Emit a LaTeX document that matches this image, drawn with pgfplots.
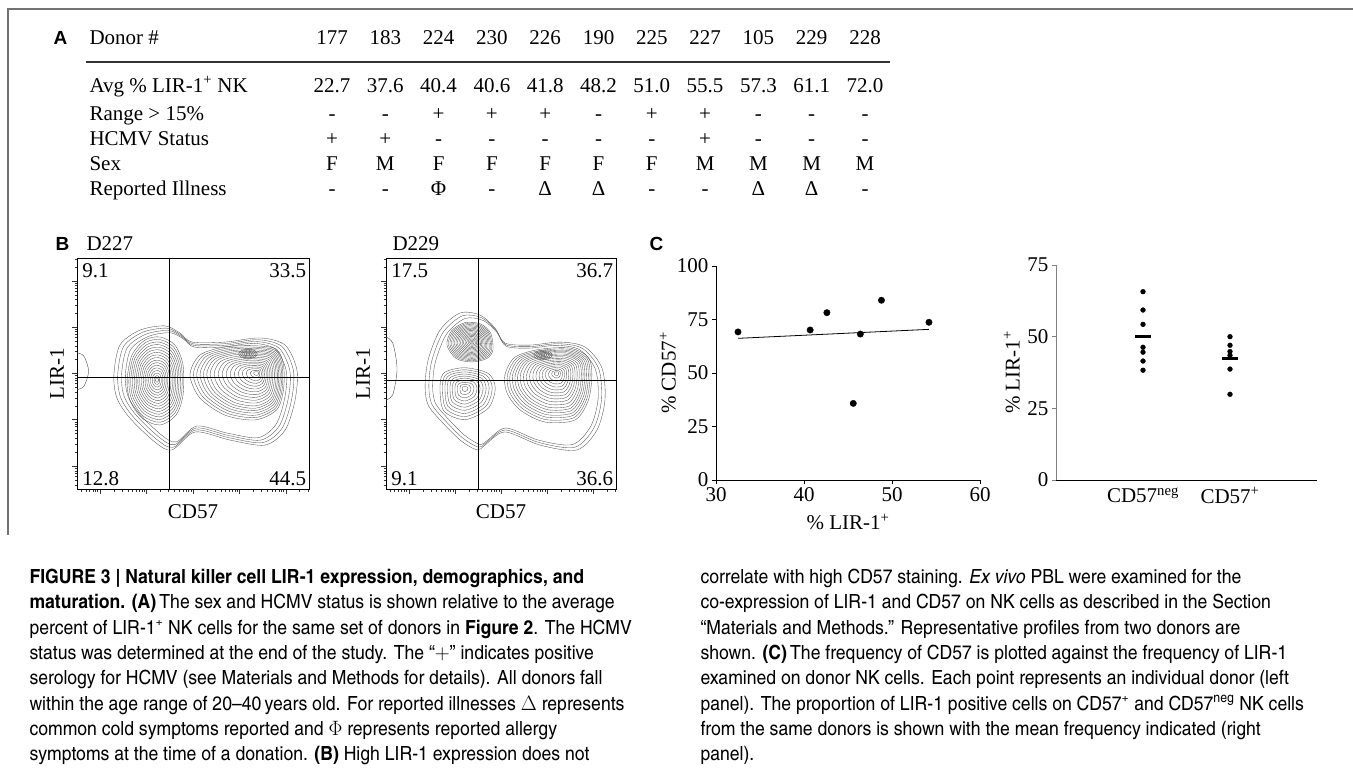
\documentclass[border=0pt]{standalone}
\usepackage{fontspec}
\setmainfont{Liberation Serif}
\newfontfamily\capfont{texgyreheroscn-regular.otf}[FakeStretch=1.1,BoldFont=texgyreheroscn-bold.otf,ItalicFont=texgyreheroscn-italic.otf]
\newfontfamily\panelfont{Liberation Sans}
\usepackage{pgfplots}
\usepackage{pgfplotstable}
\pgfplotsset{compat=1.18}

\newcommand\tf{\fontsize{21}{25}\selectfont}
\newcommand\cf{\capfont\fontsize{19.5}{25}\selectfont}
\newcommand\pf{\panelfont\bfseries\fontsize{19}{22}\selectfont}

% contour outlines, in % of the plot box
\pgfplotstableread{
u v
15.9 49.4
18.5 62.3
27.2 68.8
37.9 70.6
44.4 67.5
49.6 63.6
63.8 63.6
78.9 65.4
89.7 62.3
94.8 51.5
94.0 38.5
89.7 25.5
81.0 19.0
65.9 21.2
50.9 24.7
40.9 16.9
33.6 20.3
22.8 30.7
17.2 39.4
}\outerA
\pgfplotstableread{
u v
21.6 47.2
23.7 58.0
29.3 64.5
35.8 65.8
42.2 62.3
45.7 53.7
45.7 40.7
42.7 32.0
35.8 27.7
28.0 30.7
22.8 38.5
}\leftA
\pgfplotstableread{
u v
48.7 49.4
53.0 58.0
63.8 61.5
76.7 62.0
86.0 60.5
89.0 53.7
89.0 42.9
86.0 34.2
76.7 29.9
63.8 32.0
53.0 39.4
}\rightA
\pgfplotstableread{
u v
69.7 58.4
71.0 60.0
73.7 60.5
76.5 60.0
77.7 58.4
76.5 57.0
73.7 56.3
71.0 57.0
}\spotA
\pgfplotstableread{
u v
17.0 44.2
18.3 55.8
23.5 68.8
32.2 76.2
40.9 75.3
47.4 69.7
51.7 63.2
62.6 62.3
75.7 63.6
86.5 61.5
93.9 52.4
95.2 38.5
91.7 25.5
83.0 16.9
67.0 19.0
51.7 24.7
43.0 19.0
39.6 16.9
32.2 21.2
23.5 29.9
18.3 36.4
}\outerB
\pgfplotstableread{
u v
26.5 62.3
28.5 68.5
34.3 72.0
41.0 71.5
45.5 67.5
46.5 60.2
43.8 56.5
37.4 55.0
30.5 56.5
}\upperB
\pgfplotstableread{
u v
23.5 45.0
25.5 50.5
34.3 52.5
44.5 50.0
47.5 43.7
44.5 35.0
34.3 30.0
25.0 34.0
}\lowerB
\pgfplotstableread{
u v
51.7 49.4
56.1 57.1
67.0 60.5
80.0 61.0
88.0 57.0
89.5 49.4
88.0 38.5
82.2 29.9
69.1 29.0
58.3 34.2
52.6 41.6
}\rightB
\pgfplotstableread{
u v
64.3 58.0
65.5 59.5
68.3 60.0
71.0 59.5
72.3 58.0
71.0 56.5
68.3 56.0
65.5 56.5
}\spotB

\newcommand\contours[4]{\pgfplotsinvokeforeach{#4}{\addplot[cont] table[x expr={#2+##1*(\thisrow{u}-#2)}, y expr={#3+##1*(\thisrow{v}-#3)}]{#1};}}

\pgfplotsset{
  cont/.style={black!68, line width=0.35pt, smooth cycle, mark=none},
  flow/.style={scale only axis, xmin=0, xmax=100, ymin=0, ymax=100,
    xtick={10,30,50,70,90}, ytick={10,30,50,70,90},
    minor xtick={1.8,3.8,5.4,6.8,7.9,8.9,16,19.5,22,24,25.6,27,28.1,29.1,36,39.5,42,44,45.6,47,48.1,49.1,56,59.5,62,64,65.6,67,68.1,69.1,76,79.5,82,84,85.6,87,88.1,89.1,96,99.5},
    minor ytick={1.8,3.8,5.4,6.8,7.9,8.9,16,19.5,22,24,25.6,27,28.1,29.1,36,39.5,42,44,45.6,47,48.1,49.1,56,59.5,62,64,65.6,67,68.1,69.1,76,79.5,82,84,85.6,87,88.1,89.1,96,99.5},
    xticklabels={}, yticklabels={}, tick align=outside, xtick pos=bottom, ytick pos=left,
    major tick length=5pt, minor tick length=2.5pt, tick style={black!80, line width=0.5pt},
    axis line style={black, line width=0.8pt},
    label style={font=\tf}, xlabel={CD57}, ylabel={LIR-1},
    x label style={at={(axis description cs:0.5,-0.1)}, anchor=center}},
  dots/.style={scale only axis, axis lines=left, axis line style={-, black, line width=0.8pt},
    tick align=outside, major tick length=4pt, tick style={black, line width=0.8pt},
    tick label style={font=\tf}, label style={font=\tf},
    /pgf/number format/assume math mode=true, clip=false},
}

\begin{document}
\begin{tikzpicture}[x=1pt,y=1pt]
\useasboundingbox (0,0) rectangle (1353,-769);
\draw[black!55, line width=2pt] (8,-535) -- (8,-9) -- (1353,-9);

% ---- A: table
\node[anchor=base west, font=\pf] at (50,-44.5) {A};
\node[anchor=base west, font=\tf] at (86,-44) {Donor \#};
\draw[black!80, line width=1.6pt] (86,-62) -- (890,-62);
\node[anchor=base west, font=\tf] at (86,-92) {Avg \% LIR-1\textsuperscript{+} NK};
\node[anchor=base west, font=\tf] at (86,-120) {Range > 15\%};
\node[anchor=base west, font=\tf] at (86,-145) {HCMV Status};
\node[anchor=base west, font=\tf] at (86,-170) {Sex};
\node[anchor=base west, font=\tf] at (86,-195) {Reported Illness};
\foreach \v [count=\i from 0] in {177,183,224,230,226,190,225,227,105,229,228}
  \node[anchor=base, font=\tf] at ({332+53.3*\i},-44) {\v};
\foreach \v [count=\i from 0] in {22.7,37.6,40.4,40.6,41.8,48.2,51.0,55.5,57.3,61.1,72.0}
  \node[anchor=base, font=\tf] at ({332+53.3*\i},-92) {\v};
\foreach \v [count=\i from 0] in {-,-,+,+,+,-,+,+,-,-,-}
  \node[anchor=base, font=\tf] at ({332+53.3*\i},-120) {\v};
\foreach \v [count=\i from 0] in {+,+,-,-,-,-,-,+,-,-,-}
  \node[anchor=base, font=\tf] at ({332+53.3*\i},-145) {\v};
\foreach \v [count=\i from 0] in {F,M,F,F,F,F,F,M,M,M,M}
  \node[anchor=base, font=\tf] at ({332+53.3*\i},-170) {\v};
\foreach \v [count=\i from 0] in {-,-,Φ,-,Δ,Δ,-,-,Δ,Δ,-}
  \node[anchor=base, font=\tf] at ({332+53.3*\i},-195) {\v};

% ---- B: flow plots
\node[anchor=base west, font=\pf] at (52,-250) {B};
\node[anchor=base west, font=\tf] at (83,-250) {D227};
\node[anchor=base west, font=\tf] at (389,-250) {D229};

\begin{axis}[flow, at={(77pt,-489pt)}, anchor=south west, width=232pt, height=231pt,
  y label style={at={(axis description cs:-0.086,0.5)}, anchor=center}]
\contours{\outerA}{57}{46}{1,0.96,0.92,0.88}
\contours{\leftA}{34.5}{47.2}{1,0.94,0.88,0.82,0.76,0.7,0.64,0.58,0.52,0.46,0.4,0.34,0.28,0.22,0.16,0.1,0.05}
\contours{\rightA}{77.6}{50.2}{1,0.95,0.9,0.85,0.8,0.75,0.7,0.64,0.58,0.52,0.46,0.4,0.34,0.28,0.22,0.16,0.1,0.05}
\contours{\spotA}{73.7}{58.4}{1,0.8,0.6,0.4,0.2}
\addplot[black!70, line width=0.4pt, smooth] coordinates {(0,59) (3,57.5) (5,51) (3,44.5) (0,43)};
\addplot[black, line width=0.8pt] coordinates {(39.7,0) (39.7,100)};
\addplot[black, line width=0.8pt] coordinates {(0,48.5) (100,48.5)};
\node[anchor=north west, inner sep=0pt, font=\tf] at (2.2,97.8) {9.1};
\node[anchor=north east, inner sep=0pt, font=\tf] at (98.8,97.8) {33.5};
\node[anchor=south west, inner sep=0pt, font=\tf] at (2.2,1.2) {12.8};
\node[anchor=south east, inner sep=0pt, font=\tf] at (98.8,1.2) {44.5};
\end{axis}

\begin{axis}[flow, at={(386pt,-489pt)}, anchor=south west, width=230pt, height=231pt,
  y label style={at={(axis description cs:-0.1,0.5)}, anchor=center}]
\contours{\outerB}{58}{46}{1,0.96,0.92}
\contours{\upperB}{37.4}{63.6}{1,0.94,0.88,0.82,0.76,0.7,0.64,0.58,0.52,0.46,0.4,0.34,0.28,0.22,0.16,0.1,0.05}
\contours{\lowerB}{34.3}{43.5}{1,0.9,0.8,0.7,0.6,0.5,0.4,0.3,0.2,0.1}
\contours{\rightB}{74.3}{50.2}{1,0.95,0.9,0.85,0.8,0.75,0.7,0.64,0.58,0.52,0.46,0.4,0.34,0.28,0.22,0.16,0.1,0.05}
\contours{\spotB}{68.3}{58.0}{1,0.8,0.6,0.4,0.2}
\addplot[black!70, line width=0.4pt, smooth] coordinates {(0,65.8) (3,63) (4.8,52) (3,41) (0,38.5)};
\addplot[black, line width=0.8pt] coordinates {(40,0) (40,100)};
\addplot[black, line width=0.8pt] coordinates {(0,46.8) (100,46.8)};
\node[anchor=north west, inner sep=0pt, font=\tf] at (2.2,97.8) {17.5};
\node[anchor=north east, inner sep=0pt, font=\tf] at (98.8,97.8) {36.7};
\node[anchor=south west, inner sep=0pt, font=\tf] at (2.2,1.2) {9.1};
\node[anchor=south east, inner sep=0pt, font=\tf] at (98.8,1.2) {36.6};
\end{axis}

% ---- C: scatter and dot plot
\node[anchor=base west, font=\pf] at (646,-250) {C};

\begin{axis}[dots, at={(716pt,-480pt)}, anchor=south west, width=264pt, height=214pt,
  xmin=30, xmax=60, ymin=0, ymax=100,
  xtick={30,40,50,60}, ytick={0,25,50,75,100},
  xlabel={\% LIR-1\textsuperscript{+}}, ylabel={\% CD57\textsuperscript{+}},
  x label style={at={(axis description cs:0.5,-0.196)}, anchor=center},
  y label style={at={(axis description cs:-0.182,0.5)}, anchor=center}]
\addplot[only marks, mark=*, mark size=3.2pt, black] coordinates {
  (32.5,69.2) (40.7,70.1) (42.6,78.2) (45.6,35.8) (46.4,68.2) (48.8,84.0) (54.2,73.7)};
\addplot[black, line width=0.8pt] coordinates {(32.5,66.2) (54.2,70.4)};
\end{axis}

\begin{axis}[dots, at={(1056pt,-480pt)}, anchor=south west, width=261pt, height=215pt,
  xmin=0, xmax=3, ymin=0, ymax=75,
  xtick={1,2}, xticklabels={CD57\textsuperscript{neg}, CD57\textsuperscript{+}},
  x tick style={draw=none}, ytick={0,25,50,75},
  y axis line style={black!50}, y tick style={black!50},
  ylabel={\% LIR-1\textsuperscript{+}},
  y label style={at={(axis description cs:-0.169,0.5)}, anchor=center}]
\addplot[only marks, mark=*, mark size=2.4pt, black] coordinates {
  (1,65.7) (1,59.3) (1,54.3) (1,46.3) (1,44.6) (1,41.5) (1,38.3)};
\addplot[only marks, mark=*, mark size=2.4pt, black] coordinates {
  (2,50.0) (2,47.0) (2,44.8) (2,43.5) (2,38.7) (2,29.9)};
\addplot[only marks, mark=-, mark size=8pt, mark options={line width=3pt}, black] coordinates {
  (1,50.0) (2,42.3)};
\end{axis}

% ---- caption
\node[anchor=base west, font=\cf] at (26,-583.5) {\bfseries FIGURE 3 | Natural killer cell LIR-1 expression, demographics, and};
\node[anchor=base west, font=\cf] at (26,-608.8) {{\bfseries maturation. (A)}\,The sex and HCMV status is shown relative to the average};
\node[anchor=base west, font=\cf] at (26,-634.1) {percent of LIR-1\textsuperscript{+} NK cells for the same set of donors in {\bfseries Figure 2}. The HCMV};
\node[anchor=base west, font=\cf] at (26,-659.4) {status was determined at the end of the study. The “$+$” indicates positive};
\node[anchor=base west, font=\cf] at (26,-684.7) {serology for HCMV (see Materials and Methods for details). All donors fall};
\node[anchor=base west, font=\cf] at (26,-710.0) {within the age range of 20–40\,years old. For reported illnesses $\Delta$ represents};
\node[anchor=base west, font=\cf] at (26,-735.3) {common cold symptoms reported and $\Phi$ represents reported allergy};
\node[anchor=base west, font=\cf] at (26,-760.6) {symptoms at the time of a donation. {\bfseries (B)} High LIR-1 expression does not};
\node[anchor=base west, font=\cf] at (697,-583.5) {correlate with high CD57 staining. {\itshape Ex vivo} PBL were examined for the};
\node[anchor=base west, font=\cf] at (697,-608.8) {co-expression of LIR-1 and CD57 on NK cells as described in the Section};
\node[anchor=base west, font=\cf] at (697,-634.1) {“Materials and Methods.” Representative profiles from two donors are};
\node[anchor=base west, font=\cf] at (697,-659.4) {shown. {\bfseries (C)}\,The frequency of CD57 is plotted against the frequency of LIR-1};
\node[anchor=base west, font=\cf] at (697,-684.7) {examined on donor NK cells. Each point represents an individual donor (left};
\node[anchor=base west, font=\cf] at (697,-710.0) {panel). The proportion of LIR-1 positive cells on CD57\textsuperscript{+} and CD57\textsuperscript{neg} NK cells};
\node[anchor=base west, font=\cf] at (697,-735.3) {from the same donors is shown with the mean frequency indicated (right};
\node[anchor=base west, font=\cf] at (697,-760.6) {panel).};
\end{tikzpicture}
\end{document}
